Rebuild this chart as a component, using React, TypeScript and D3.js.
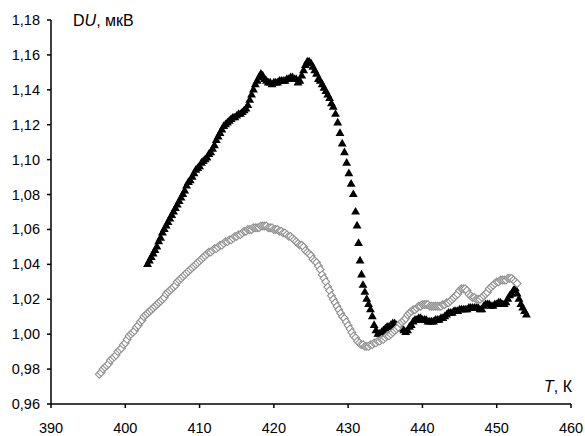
import React from "react";
import * as d3 from "d3";

// Series 1 (black triangles): [T, K ; ΔU, µV]
const TRIANGLES: [number, number][] = [
  [403.0, 1.040], [403.25, 1.042], [403.5, 1.044], [403.75, 1.046], [404.0, 1.048], [404.25, 1.050],
  [404.5, 1.053], [404.75, 1.055], [405.0, 1.058], [405.25, 1.060], [405.5, 1.062], [405.75, 1.064],
  [406.0, 1.066], [406.25, 1.068], [406.5, 1.070], [406.75, 1.072], [407.0, 1.074], [407.25, 1.076],
  [407.5, 1.078], [407.75, 1.080], [408.0, 1.082], [408.25, 1.085], [408.5, 1.087], [408.75, 1.088],
  [409.0, 1.090], [409.25, 1.092], [409.5, 1.094], [409.75, 1.095], [410.0, 1.096], [410.25, 1.098],
  [410.5, 1.099], [410.75, 1.100], [411.0, 1.101], [411.25, 1.103], [411.5, 1.104], [411.75, 1.106],
  [412.0, 1.108], [412.25, 1.111], [412.5, 1.113], [412.75, 1.115], [413.0, 1.117], [413.25, 1.119],
  [413.5, 1.120], [413.75, 1.121], [414.0, 1.122], [414.25, 1.123], [414.5, 1.124], [414.75, 1.124],
  [415.0, 1.125], [415.25, 1.126], [415.5, 1.126], [415.75, 1.127], [416.0, 1.128], [416.25, 1.129],
  [416.5, 1.131], [416.75, 1.134], [417.0, 1.137], [417.25, 1.140], [417.5, 1.143], [417.75, 1.145],
  [418.0, 1.147], [418.25, 1.149], [418.5, 1.148], [418.75, 1.146], [419.0, 1.145], [419.25, 1.144],
  [419.5, 1.144], [419.75, 1.143], [420.0, 1.144], [420.25, 1.144], [420.5, 1.144], [420.75, 1.145],
  [421.0, 1.145], [421.25, 1.145], [421.5, 1.145], [421.75, 1.146], [422.0, 1.146], [422.25, 1.147],
  [422.5, 1.147], [422.75, 1.146], [423.0, 1.146], [423.25, 1.144], [423.5, 1.145], [423.75, 1.148],
  [424.0, 1.151], [424.25, 1.154], [424.5, 1.156], [424.75, 1.156], [425.0, 1.155], [425.25, 1.153],
  [425.5, 1.151], [425.75, 1.149], [426.0, 1.146], [426.25, 1.145], [426.5, 1.143], [426.75, 1.141],
  [427.0, 1.139], [427.25, 1.137], [427.5, 1.135], [427.75, 1.132], [428.0, 1.130], [428.3, 1.126],
  [428.6, 1.121], [428.9, 1.115], [429.2, 1.109], [429.5, 1.104], [429.8, 1.098], [430.1, 1.092],
  [430.4, 1.086], [430.7, 1.080], [431.0, 1.070], [431.2, 1.062], [431.4, 1.052], [431.6, 1.042],
  [431.8, 1.034], [432.0, 1.028], [432.25, 1.024], [432.5, 1.020], [432.75, 1.017], [433.0, 1.014],
  [433.25, 1.010], [433.5, 1.005], [433.75, 1.002], [434.0, 1.000], [434.25, 1.000], [434.5, 1.001],
  [434.75, 1.002], [435.0, 1.003], [435.25, 1.004], [435.5, 1.004], [435.75, 1.005], [436.0, 1.006],
  [436.25, 1.006], [436.5, 1.005], [436.75, 1.004], [437.0, 1.004], [437.25, 1.003], [437.5, 1.002],
  [437.75, 1.001], [438.0, 1.002], [438.25, 1.004], [438.5, 1.005], [438.75, 1.007], [439.0, 1.008],
  [439.25, 1.008], [439.5, 1.009], [439.75, 1.009], [440.0, 1.008], [440.25, 1.008], [440.5, 1.008],
  [440.75, 1.007], [441.0, 1.007], [441.25, 1.007], [441.5, 1.007], [441.75, 1.008], [442.0, 1.008],
  [442.25, 1.008], [442.5, 1.009], [442.75, 1.009], [443.0, 1.010], [443.25, 1.011], [443.5, 1.012],
  [443.75, 1.012], [444.0, 1.012], [444.25, 1.013], [444.5, 1.013], [444.75, 1.013], [445.0, 1.014],
  [445.25, 1.014], [445.5, 1.014], [445.75, 1.014], [446.0, 1.014], [446.25, 1.015], [446.5, 1.015],
  [446.75, 1.015], [447.0, 1.015], [447.25, 1.015], [447.5, 1.015], [447.75, 1.014], [448.0, 1.014],
  [448.25, 1.016], [448.5, 1.017], [448.75, 1.017], [449.0, 1.017], [449.25, 1.016], [449.5, 1.016],
  [449.75, 1.017], [450.0, 1.017], [450.25, 1.018], [450.5, 1.018], [450.75, 1.017], [451.0, 1.017],
  [451.25, 1.018], [451.5, 1.020], [451.75, 1.022], [452.0, 1.023], [452.25, 1.025], [452.5, 1.026],
  [452.75, 1.023], [453.0, 1.020], [453.25, 1.017], [453.5, 1.015], [453.75, 1.013], [454.0, 1.011],
];

// Series 2 (grey open diamonds): [T, K ; ΔU, µV]
const DIAMONDS: [number, number][] = [
  [396.5, 0.977], [396.75, 0.978], [397.0, 0.980], [397.25, 0.981], [397.5, 0.982], [397.75, 0.983],
  [398.0, 0.985], [398.25, 0.986], [398.5, 0.987], [398.75, 0.988], [399.0, 0.990], [399.25, 0.991],
  [399.5, 0.992], [399.75, 0.994], [400.0, 0.995], [400.25, 0.997], [400.5, 0.999], [400.75, 1.000],
  [401.0, 1.001], [401.25, 1.002], [401.5, 1.004], [401.75, 1.005], [402.0, 1.007], [402.25, 1.008],
  [402.5, 1.010], [402.75, 1.011], [403.0, 1.012], [403.25, 1.013], [403.5, 1.014], [403.75, 1.015],
  [404.0, 1.016], [404.25, 1.017], [404.5, 1.018], [404.75, 1.019], [405.0, 1.020], [405.25, 1.021],
  [405.5, 1.023], [405.75, 1.024], [406.0, 1.025], [406.25, 1.026], [406.5, 1.027], [406.75, 1.028],
  [407.0, 1.030], [407.25, 1.031], [407.5, 1.032], [407.75, 1.033], [408.0, 1.034], [408.25, 1.035],
  [408.5, 1.036], [408.75, 1.037], [409.0, 1.038], [409.25, 1.039], [409.5, 1.040], [409.75, 1.041],
  [410.0, 1.042], [410.25, 1.043], [410.5, 1.044], [410.75, 1.045], [411.0, 1.046], [411.25, 1.047],
  [411.5, 1.047], [411.75, 1.048], [412.0, 1.049], [412.25, 1.049], [412.5, 1.050], [412.75, 1.051],
  [413.0, 1.051], [413.25, 1.052], [413.5, 1.053], [413.75, 1.053], [414.0, 1.054], [414.25, 1.054],
  [414.5, 1.055], [414.75, 1.056], [415.0, 1.056], [415.25, 1.057], [415.5, 1.057], [415.75, 1.058],
  [416.0, 1.059], [416.25, 1.059], [416.5, 1.060], [416.75, 1.060], [417.0, 1.060], [417.25, 1.061],
  [417.5, 1.061], [417.75, 1.061], [418.0, 1.061], [418.25, 1.062], [418.5, 1.062], [418.75, 1.062],
  [419.0, 1.062], [419.25, 1.061], [419.5, 1.061], [419.75, 1.061], [420.0, 1.060], [420.25, 1.060],
  [420.5, 1.060], [420.75, 1.059], [421.0, 1.059], [421.25, 1.058], [421.5, 1.058], [421.75, 1.057],
  [422.0, 1.056], [422.25, 1.056], [422.5, 1.055], [422.75, 1.054], [423.0, 1.053], [423.25, 1.052],
  [423.5, 1.051], [423.75, 1.051], [424.0, 1.050], [424.25, 1.048], [424.5, 1.047], [424.75, 1.046],
  [425.0, 1.045], [425.25, 1.043], [425.5, 1.042], [425.75, 1.041], [426.0, 1.039], [426.25, 1.037],
  [426.5, 1.034], [426.75, 1.032], [427.0, 1.030], [427.25, 1.027], [427.5, 1.025], [427.75, 1.022],
  [428.0, 1.020], [428.25, 1.018], [428.5, 1.016], [428.75, 1.014], [429.0, 1.012], [429.25, 1.010],
  [429.5, 1.009], [429.75, 1.007], [430.0, 1.005], [430.25, 1.003], [430.5, 1.001], [430.75, 0.999],
  [431.0, 0.998], [431.25, 0.996], [431.5, 0.995], [431.75, 0.994], [432.0, 0.994], [432.25, 0.993],
  [432.5, 0.993], [432.75, 0.993], [433.0, 0.994], [433.25, 0.994], [433.5, 0.995], [433.75, 0.995],
  [434.0, 0.996], [434.25, 0.996], [434.5, 0.997], [434.75, 0.997], [435.0, 0.998], [435.25, 0.999],
  [435.5, 0.999], [435.75, 1.000], [436.0, 1.001], [436.25, 1.002], [436.5, 1.003], [436.75, 1.004],
  [437.0, 1.006], [437.25, 1.007], [437.5, 1.008], [437.75, 1.009], [438.0, 1.011], [438.25, 1.012],
  [438.5, 1.013], [438.75, 1.014], [439.0, 1.014], [439.25, 1.015], [439.5, 1.016], [439.75, 1.016],
  [440.0, 1.017], [440.25, 1.017], [440.5, 1.017], [440.75, 1.017], [441.0, 1.016], [441.25, 1.016],
  [441.5, 1.016], [441.75, 1.016], [442.0, 1.016], [442.25, 1.016], [442.5, 1.016], [442.75, 1.017],
  [443.0, 1.017], [443.25, 1.018], [443.5, 1.018], [443.75, 1.019], [444.0, 1.020], [444.25, 1.021],
  [444.5, 1.022], [444.75, 1.023], [445.0, 1.025], [445.25, 1.026], [445.5, 1.026], [445.75, 1.026],
  [446.0, 1.025], [446.25, 1.023], [446.5, 1.022], [446.75, 1.021], [447.0, 1.021], [447.25, 1.020],
  [447.5, 1.020], [447.75, 1.020], [448.0, 1.021], [448.25, 1.022], [448.5, 1.023], [448.75, 1.024],
  [449.0, 1.026], [449.25, 1.027], [449.5, 1.028], [449.75, 1.029], [450.0, 1.030], [450.25, 1.030],
  [450.5, 1.031], [450.75, 1.031], [451.0, 1.031], [451.25, 1.031], [451.5, 1.032], [451.75, 1.032],
  [452.0, 1.032], [452.25, 1.031], [452.5, 1.030], [452.75, 1.029],
];

const X_TICKS = [390, 400, 410, 420, 430, 440, 450, 460];
const Y_TICKS = [0.96, 0.98, 1.0, 1.02, 1.04, 1.06, 1.08, 1.1, 1.12, 1.14, 1.16, 1.18];

const W = 585;
const H = 436;
const LEFT = 51;
const RIGHT = 571;
const TOP = 20;
const BOTTOM = 404;
const FONT = "'Liberation Sans', Arial, sans-serif";

export default function App() {
  const x = d3.scaleLinear().domain([390, 460]).range([LEFT, RIGHT]);
  const y = d3.scaleLinear().domain([0.96, 1.18]).range([BOTTOM, TOP]);
  const fmt = (v: number) => d3.format(".2f")(v).replace(".", ",");
  const tri = d3.symbol().type(d3.symbolTriangle).size(34)() as string;
  const dia = "M0,-3.9L3.9,0L0,3.9L-3.9,0Z";

  return (
    <svg
      width={W}
      height={H}
      style={{ position: "absolute", left: 0, top: 0, background: "#fff" }}
      fontFamily={FONT}
    >
      <rect x={0} y={0} width={W} height={H} fill="#fff" />
      <g>
        {TRIANGLES.map(([t, u], i) => (
          <path key={"t" + i} d={tri} transform={`translate(${x(t)},${y(u)})`} fill="#000" />
        ))}
      </g>
      <g>
        {DIAMONDS.map(([t, u], i) => (
          <path
            key={"d" + i}
            d={dia}
            transform={`translate(${x(t)},${y(u)})`}
            fill="#fff"
            stroke="#909090"
            strokeWidth={1.1}
          />
        ))}
      </g>
      <line x1={LEFT} x2={LEFT} y1={TOP} y2={BOTTOM} stroke="#000" strokeWidth={1.5} />
      <line x1={LEFT} x2={RIGHT} y1={BOTTOM} y2={BOTTOM} stroke="#000" strokeWidth={1.5} />
      {Y_TICKS.map((v) => (
        <g key={"y" + v}>
          <line x1={LEFT - 4} x2={LEFT} y1={y(v)} y2={y(v)} stroke="#000" strokeWidth={1.5} />
          <text x={LEFT - 11} y={y(v) + 5} textAnchor="end" fontSize={14.5} fill="#000">
            {fmt(v)}
          </text>
        </g>
      ))}
      {X_TICKS.map((v) => (
        <g key={"x" + v}>
          <line x1={x(v)} x2={x(v)} y1={BOTTOM} y2={BOTTOM + 4} stroke="#000" strokeWidth={1.5} />
          <text x={x(v)} y={BOTTOM + 29} textAnchor="middle" fontSize={14.5} fill="#000">
            {v}
          </text>
        </g>
      ))}
      <text x={73} y={26} fontSize={16} fill="#000">
        <tspan fontWeight={300}>D</tspan>
        <tspan fontStyle="italic">U</tspan>
        <tspan>, мкВ</tspan>
      </text>
      <text x={572} y={392} textAnchor="end" fontSize={16} fill="#000">
        <tspan fontStyle="italic">T</tspan>
        <tspan>, К</tspan>
      </text>
    </svg>
  );
}
